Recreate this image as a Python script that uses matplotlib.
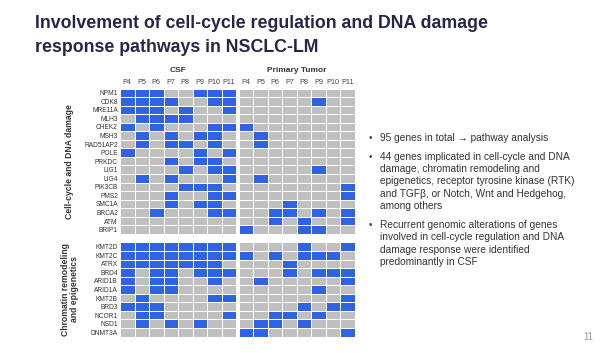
import numpy as np
import matplotlib
matplotlib.use('Agg')
import matplotlib.pyplot as plt
from matplotlib.colors import ListedColormap

plt.rcParams['font.family'] = ['Liberation Sans', 'DejaVu Sans']

# data
patients = ['P4', 'P5', 'P6', 'P7', 'P8', 'P9', 'P10', 'P11']

genes_ddr = ['NPM1', 'CDK8', 'MRE11A', 'MLH3', 'CHEK2', 'MSH3', 'RAD51AP2', 'POLE',
             'PRKDC', 'LIG1', 'LIG4', 'PIK3CB', 'PMS2', 'SMC1A', 'BRCA2', 'ATM', 'BRIP1']
genes_chrom = ['KMT2D', 'KMT2C', 'ATRX', 'BRD4', 'ARID1B', 'ARID1A', 'KMT2B', 'BRD3',
               'NCOR1', 'NSD1', 'DNMT3A']

csf_ddr = [
    [1, 1, 1, 0, 0, 1, 1, 1],
    [1, 1, 1, 1, 0, 0, 1, 1],
    [1, 1, 1, 0, 1, 0, 0, 1],
    [0, 1, 1, 1, 1, 0, 0, 0],
    [1, 0, 1, 0, 0, 0, 1, 1],
    [0, 1, 0, 1, 0, 1, 1, 0],
    [0, 1, 0, 1, 1, 0, 1, 0],
    [1, 0, 0, 0, 0, 1, 0, 1],
    [0, 0, 0, 1, 0, 1, 1, 0],
    [0, 0, 0, 0, 1, 0, 1, 1],
    [0, 1, 0, 1, 0, 0, 0, 1],
    [0, 0, 0, 0, 1, 1, 1, 0],
    [0, 0, 0, 1, 0, 0, 1, 1],
    [0, 0, 0, 1, 0, 1, 1, 0],
    [0, 0, 1, 0, 0, 0, 1, 1],
    [0, 0, 0, 0, 0, 0, 0, 0],
    [0, 0, 0, 0, 0, 0, 0, 0],
]
pt_ddr = [
    [0, 0, 0, 0, 0, 0, 0, 0],
    [0, 0, 0, 0, 0, 1, 0, 0],
    [0, 0, 0, 0, 0, 0, 0, 0],
    [0, 0, 0, 0, 0, 0, 0, 0],
    [1, 0, 0, 0, 0, 0, 0, 0],
    [0, 1, 0, 0, 0, 0, 0, 0],
    [0, 1, 0, 0, 0, 0, 0, 0],
    [0, 0, 0, 0, 0, 0, 0, 0],
    [0, 0, 0, 0, 0, 0, 0, 0],
    [0, 0, 0, 0, 0, 1, 0, 0],
    [0, 1, 0, 0, 0, 0, 0, 0],
    [0, 0, 0, 0, 0, 0, 0, 1],
    [0, 0, 0, 0, 0, 0, 0, 1],
    [0, 0, 0, 1, 0, 0, 0, 0],
    [0, 0, 1, 1, 0, 1, 0, 1],
    [0, 0, 1, 0, 1, 0, 0, 1],
    [1, 0, 0, 0, 1, 1, 0, 0],
]
csf_chrom = [
    [1, 1, 1, 1, 1, 1, 1, 1],
    [1, 1, 1, 1, 1, 1, 1, 1],
    [1, 1, 1, 1, 1, 1, 1, 0],
    [1, 0, 1, 1, 0, 1, 1, 1],
    [1, 0, 1, 1, 0, 0, 1, 0],
    [1, 0, 1, 1, 0, 0, 0, 0],
    [0, 1, 0, 0, 0, 0, 1, 1],
    [1, 1, 1, 0, 0, 0, 0, 0],
    [0, 1, 1, 0, 0, 0, 0, 1],
    [0, 1, 0, 1, 0, 1, 0, 0],
    [0, 0, 0, 0, 0, 0, 0, 0],
]
pt_chrom = [
    [0, 0, 0, 0, 1, 0, 0, 1],
    [1, 0, 1, 0, 1, 1, 1, 0],
    [0, 0, 0, 1, 0, 0, 0, 0],
    [0, 0, 0, 1, 0, 1, 1, 1],
    [0, 1, 0, 0, 0, 0, 0, 1],
    [0, 0, 0, 0, 0, 1, 0, 0],
    [0, 0, 0, 0, 0, 0, 0, 1],
    [0, 0, 0, 0, 1, 0, 1, 1],
    [0, 0, 1, 1, 0, 1, 0, 0],
    [0, 1, 1, 0, 1, 0, 0, 0],
    [1, 1, 0, 0, 0, 0, 0, 1],
]

bullets = [
    '95 genes in total \u2192 pathway analysis',
    '44 genes implicated in cell-cycle and DNA\ndamage, chromatin remodeling and\n'
    'epigenetics, receptor tyrosine kinase (RTK)\nand TGF\u03b2, or Notch, Wnt and Hedgehog,\namong others',
    'Recurrent genomic alterations of genes\ninvolved in cell-cycle regulation and DNA\n'
    'damage response were identified\npredominantly in CSF',
]

W, H = 610, 353
BLUE = '#2f63e3'
GRAY = '#c0c0c0'
cmap = ListedColormap([GRAY, BLUE])


def fx(px):
    return px / W


def fy(py):
    return 1 - py / H


fig = plt.figure(figsize=(W / 100, H / 100), dpi=100)
fig.patch.set_facecolor('white')

# title
fig.text(fx(35), fy(28), 'Involvement of cell-cycle regulation and DNA damage',
         fontsize=12.8, fontweight='bold', color='#25264a', va='baseline')
fig.text(fx(35), fy(52), 'response pathways in NSCLC-LM',
         fontsize=12.8, fontweight='bold', color='#25264a', va='baseline')

# heatmap grid
gap = 0.2
n_top = len(genes_ddr)
n_bot = len(genes_chrom)
bot0 = n_top + 1
ax = fig.add_axes([fx(120), fy(336.5), fx(235), (336.5 - 88.5) / H])

xe_csf = np.arange(len(patients) + 1)
xe_pt = xe_csf + len(patients) + gap
ye_top = np.arange(n_top + 1)
ye_bot = np.arange(n_bot + 1) + bot0

for xe, ye, arr in [(xe_csf, ye_top, csf_ddr), (xe_pt, ye_top, pt_ddr),
                    (xe_csf, ye_bot, csf_chrom), (xe_pt, ye_bot, pt_chrom)]:
    ax.pcolormesh(xe, ye, np.array(arr), cmap=cmap, vmin=0, vmax=1,
                  edgecolors='white', linewidth=0.7)

ax.set_xlim(0, 2 * len(patients) + gap)
ax.set_ylim(bot0 + n_bot, 0)
for s in ax.spines.values():
    s.set_visible(False)

yt = list(np.arange(n_top) + 0.5) + list(np.arange(n_bot) + bot0 + 0.5)
ax.set_yticks(yt)
ax.set_yticklabels(genes_ddr + genes_chrom, fontsize=4.8, color='#333333')
xt = list(np.arange(len(patients)) + 0.5) + list(np.arange(len(patients)) + 0.5 + len(patients) + gap)
ax.set_xticks(xt)
ax.set_xticklabels(patients + patients, fontsize=5.2, color='#444444')
ax.xaxis.tick_top()
ax.tick_params(length=0, pad=1.5)

ax.text(len(patients) / 2, -2.05, 'CSF', ha='center', va='center',
        fontsize=6, fontweight='bold', color='#333333')
ax.text(len(patients) + gap + len(patients) / 2, -2.05, 'Primary Tumor', ha='center',
        va='center', fontsize=6, fontweight='bold', color='#333333')

# group labels
ax.text(-3.45, n_top / 2, 'Cell-cycle and DNA damage', rotation=90,
        ha='center', va='center', fontsize=6.2, fontweight='bold', color='#333333')
ax.text(-3.45, bot0 + n_bot / 2, 'Chromatin remodeling\nand epigenetics', rotation=90,
        ha='center', va='center', fontsize=6.2, fontweight='bold', color='#333333',
        linespacing=1.1)

# bullet text
ys = [138, 156.5, 225]
for y, t in zip(ys, bullets):
    fig.text(fx(369), fy(y), '\u2022', fontsize=7, color='#444444', va='center')
    fig.text(fx(380), fy(y - 5), t, fontsize=7.3, color='#333333', va='top',
             linespacing=1.3)

fig.text(fx(583), fy(337), '11', fontsize=7, color='#999999', va='center')

fig.savefig('out.png', dpi=100)
